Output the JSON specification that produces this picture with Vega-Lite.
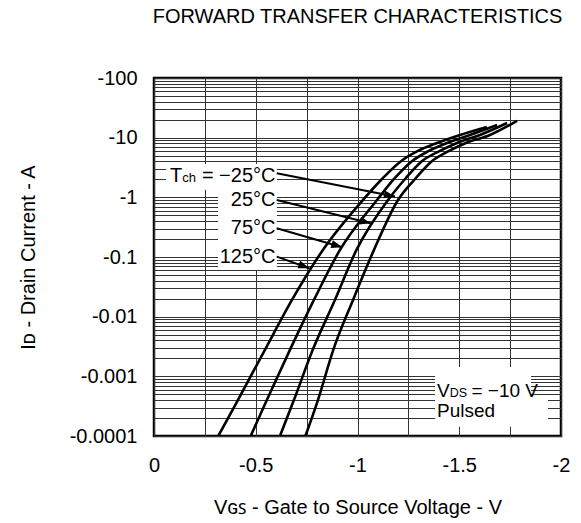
{
  "$schema": "https://vega.github.io/schema/vega-lite/v6.json",
  "width": 407,
  "height": 358,
  "autosize": {"type": "none"},
  "padding": {"left": 154, "top": 78, "right": 20, "bottom": 87},
  "background": "white",
  "config": {
    "font": "Liberation Sans",
    "view": {"stroke": "#000", "strokeWidth": 2.5},
    "axis": {"labelFont": "Liberation Sans", "titleFont": "Liberation Sans", "labelColor": "#000", "titleColor": "#000", "titleFontWeight": "normal", "gridColor": "#333", "gridWidth": 1, "gridOpacity": 1}
  },
  "title": {"text": "FORWARD TRANSFER CHARACTERISTICS", "font": "Liberation Sans", "fontSize": 20, "fontWeight": "normal", "color": "#000", "anchor": "middle", "baseline": "alphabetic", "offset": 25},
  "datasets": {
    "curves": [
      {"tch": 125, "vgs": -0.316, "id": 0.0001},
      {"tch": 125, "vgs": -0.413, "id": 0.000404},
      {"tch": 125, "vgs": -0.545, "id": 0.00278},
      {"tch": 125, "vgs": -0.678, "id": 0.0191},
      {"tch": 125, "vgs": -0.830, "id": 0.1315},
      {"tch": 125, "vgs": -1.027, "id": 0.904},
      {"tch": 125, "vgs": -1.125, "id": 2.11},
      {"tch": 125, "vgs": -1.209, "id": 3.92},
      {"tch": 125, "vgs": -1.297, "id": 5.99},
      {"tch": 125, "vgs": -1.391, "id": 8.15},
      {"tch": 125, "vgs": -1.504, "id": 11.1},
      {"tch": 125, "vgs": -1.636, "id": 15.1},
      {"tch": 75, "vgs": -0.475, "id": 0.0001},
      {"tch": 75, "vgs": -0.555, "id": 0.000404},
      {"tch": 75, "vgs": -0.668, "id": 0.00278},
      {"tch": 75, "vgs": -0.786, "id": 0.0191},
      {"tch": 75, "vgs": -0.914, "id": 0.1315},
      {"tch": 75, "vgs": -1.096, "id": 0.904},
      {"tch": 75, "vgs": -1.184, "id": 2.11},
      {"tch": 75, "vgs": -1.263, "id": 3.92},
      {"tch": 75, "vgs": -1.351, "id": 5.99},
      {"tch": 75, "vgs": -1.440, "id": 8.15},
      {"tch": 75, "vgs": -1.553, "id": 11.1},
      {"tch": 75, "vgs": -1.686, "id": 16.3},
      {"tch": 25, "vgs": -0.619, "id": 0.0001},
      {"tch": 25, "vgs": -0.688, "id": 0.000404},
      {"tch": 25, "vgs": -0.780, "id": 0.00278},
      {"tch": 25, "vgs": -0.889, "id": 0.0191},
      {"tch": 25, "vgs": -0.995, "id": 0.1315},
      {"tch": 25, "vgs": -1.150, "id": 0.904},
      {"tch": 25, "vgs": -1.238, "id": 2.11},
      {"tch": 25, "vgs": -1.312, "id": 3.92},
      {"tch": 25, "vgs": -1.405, "id": 5.99},
      {"tch": 25, "vgs": -1.489, "id": 8.15},
      {"tch": 25, "vgs": -1.602, "id": 11.1},
      {"tch": 25, "vgs": -1.735, "id": 17.6},
      {"tch": -25, "vgs": -0.744, "id": 0.0001},
      {"tch": -25, "vgs": -0.806, "id": 0.000404},
      {"tch": -25, "vgs": -0.881, "id": 0.00278},
      {"tch": -25, "vgs": -0.978, "id": 0.0191},
      {"tch": -25, "vgs": -1.081, "id": 0.1315},
      {"tch": -25, "vgs": -1.199, "id": 0.904},
      {"tch": -25, "vgs": -1.287, "id": 2.11},
      {"tch": -25, "vgs": -1.361, "id": 3.92},
      {"tch": -25, "vgs": -1.450, "id": 5.99},
      {"tch": -25, "vgs": -1.533, "id": 8.15},
      {"tch": -25, "vgs": -1.651, "id": 11.1},
      {"tch": -25, "vgs": -1.784, "id": 19.1}
    ],
    "boxes": [
      {"v1": -0.059, "v2": -0.604, "i1": 3.63, "i2": 1.33},
      {"v1": -0.3145, "v2": -0.604, "i1": 1.33, "i2": 0.0608},
      {"v1": -1.381, "v2": -1.853, "i1": 0.00144, "i2": 0.000436},
      {"v1": -1.381, "v2": -1.936, "i1": 0.000436, "i2": 0.000143}
    ],
    "arrows": [
      {"tch": -25, "vs": -0.603, "is": 2.53, "ve": -1.184, "ie": 1.03, "heading": 11.2},
      {"tch": 25, "vs": -0.603, "is": 0.904, "ve": -1.065, "ie": 0.368, "heading": 13.9},
      {"tch": 75, "vs": -0.603, "is": 0.304, "ve": -0.925, "ie": 0.146, "heading": 16.2},
      {"tch": 125, "vs": -0.603, "is": 0.1016, "ve": -0.763, "ie": 0.0649, "heading": 19.6}
    ],
    "notes": [
      {"kind": "right", "v": -0.597, "i": 1.81, "t": "= −25°C"},
      {"kind": "right", "v": -0.597, "i": 0.704, "t": "25°C"},
      {"kind": "right", "v": -0.597, "i": 0.244, "t": "75°C"},
      {"kind": "right", "v": -0.597, "i": 0.0806, "t": "125°C"},
      {"kind": "tleft", "v": -0.0786, "i": 1.81, "t": "T"},
      {"kind": "tsub", "v": -0.1386, "i": 1.81, "t": "ch"},
      {"kind": "left", "v": -1.3907, "i": 0.000459, "t": "V"},
      {"kind": "sub", "v": -1.453, "i": 0.000459, "t": "DS"},
      {"kind": "left", "v": -1.560, "i": 0.000459, "t": "= −10 V"},
      {"kind": "left", "v": -1.3907, "i": 0.000212, "t": "Pulsed"}
    ]
  },
  "layer": [
    {
      "data": {"name": "boxes"},
      "mark": {"type": "rect", "color": "white", "opacity": 1},
      "encoding": {
        "x": {"field": "v1", "type": "quantitative", "scale": {"domain": [0, -2], "nice": false, "zero": false},
          "axis": {"values": [0, -0.25, -0.5, -0.75, -1, -1.25, -1.5, -1.75, -2], "grid": true, "ticks": false, "domain": false,
            "labelExpr": "abs(datum.value * 2 - round(datum.value * 2)) < 0.001 ? (datum.value == 0 ? '0' : '-' + format(-datum.value, '~g')) : ''",
            "labelFontSize": 20, "labelPadding": 19, "labelFlush": false, "labelOverlap": false,
            "title": "Vɢꜱ - Gate to Source Voltage - V", "titleFontSize": 20, "titlePadding": 22}},
        "x2": {"field": "v2"},
        "y": {"field": "i1", "type": "quantitative", "scale": {"type": "log", "domain": [0.0001, 100], "nice": false},
          "axis": {"values": [0.0001, 0.0002, 0.0003, 0.0004, 0.0005, 0.0006, 0.0007, 0.0008, 0.0009, 0.001, 0.002, 0.003, 0.004, 0.005, 0.006, 0.007, 0.008, 0.009, 0.01, 0.02, 0.03, 0.04, 0.05, 0.06, 0.07, 0.08, 0.09, 0.1, 0.2, 0.3, 0.4, 0.5, 0.6, 0.7, 0.8, 0.9, 1, 2, 3, 4, 5, 6, 7, 8, 9, 10, 20, 30, 40, 50, 60, 70, 80, 90, 100],
            "grid": true, "ticks": false, "domain": false,
            "labelExpr": "abs(log(datum.value) / LN10 - round(log(datum.value) / LN10)) < 0.001 ? '-' + format(datum.value, '~g') : ''",
            "labelFontSize": 20, "labelPadding": 17, "labelOverlap": false, "labelBound": false,
            "title": "Iᴅ - Drain Current - A", "titleFontSize": 20, "titlePadding": 31}},
        "y2": {"field": "i2"}
      }
    },
    {
      "data": {"name": "curves"},
      "mark": {"type": "line", "color": "#000", "strokeWidth": 2.6, "interpolate": "monotone", "clip": true},
      "encoding": {
        "x": {"field": "vgs", "type": "quantitative"},
        "y": {"field": "id", "type": "quantitative"},
        "detail": {"field": "tch", "type": "nominal"}
      }
    },
    {
      "data": {"name": "arrows"},
      "mark": {"type": "rule", "color": "#000", "strokeWidth": 2},
      "encoding": {
        "x": {"field": "vs", "type": "quantitative"},
        "y": {"field": "is", "type": "quantitative"},
        "x2": {"field": "ve"},
        "y2": {"field": "ie"}
      }
    },
    {
      "data": {"name": "arrows"},
      "mark": {"type": "point", "shape": "M0,0L-2.2,-0.8L-2.2,0.8Z", "filled": true, "color": "#000", "size": 100, "opacity": 1},
      "encoding": {
        "x": {"field": "ve", "type": "quantitative"},
        "y": {"field": "ie", "type": "quantitative"},
        "angle": {"field": "heading", "type": "quantitative", "scale": null}
      }
    },
    {
      "data": {"name": "notes"},
      "transform": [{"filter": "datum.kind == 'right'"}],
      "mark": {"type": "text", "align": "right", "baseline": "alphabetic", "fontSize": 20, "font": "Liberation Sans", "color": "#000"},
      "encoding": {
        "x": {"field": "v", "type": "quantitative"},
        "y": {"field": "i", "type": "quantitative"},
        "text": {"field": "t"}
      }
    },
    {
      "data": {"name": "notes"},
      "transform": [{"filter": "datum.kind == 'tleft'"}],
      "mark": {"type": "text", "align": "left", "baseline": "alphabetic", "fontSize": 20, "font": "Liberation Sans", "color": "#000"},
      "encoding": {
        "x": {"field": "v", "type": "quantitative"},
        "y": {"field": "i", "type": "quantitative"},
        "text": {"field": "t"}
      }
    },
    {
      "data": {"name": "notes"},
      "transform": [{"filter": "datum.kind == 'tsub'"}],
      "mark": {"type": "text", "align": "left", "baseline": "alphabetic", "fontSize": 13, "font": "Liberation Sans", "color": "#000"},
      "encoding": {
        "x": {"field": "v", "type": "quantitative"},
        "y": {"field": "i", "type": "quantitative"},
        "text": {"field": "t"}
      }
    },
    {
      "data": {"name": "notes"},
      "transform": [{"filter": "datum.kind == 'left'"}],
      "mark": {"type": "text", "align": "left", "baseline": "alphabetic", "fontSize": 19, "font": "Liberation Sans", "color": "#000"},
      "encoding": {
        "x": {"field": "v", "type": "quantitative"},
        "y": {"field": "i", "type": "quantitative"},
        "text": {"field": "t"}
      }
    },
    {
      "data": {"name": "notes"},
      "transform": [{"filter": "datum.kind == 'sub'"}],
      "mark": {"type": "text", "align": "left", "baseline": "alphabetic", "fontSize": 12.5, "font": "Liberation Sans", "color": "#000"},
      "encoding": {
        "x": {"field": "v", "type": "quantitative"},
        "y": {"field": "i", "type": "quantitative"},
        "text": {"field": "t"}
      }
    }
  ]
}
